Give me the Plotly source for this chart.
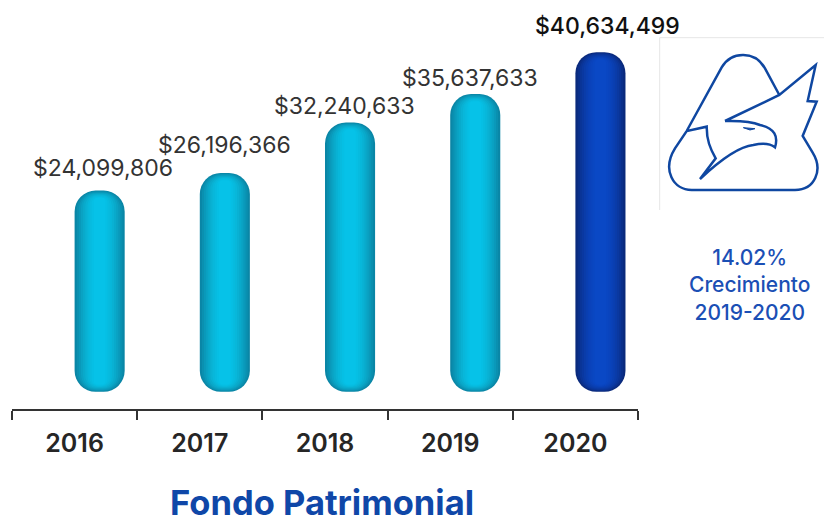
import plotly.graph_objects as go

W, H = 824, 517
years = ["2016", "2017", "2018", "2019", "2020"]
values = [24099806, 26196366, 32240633, 35637633, 40634499]
labels = ["$24,099,806", "$26,196,366", "$32,240,633", "$35,637,633", "$40,634,499"]
label_dx = [28, 25, 19, 20, 32]
label_dy = [22, 28, 16, 16, 26]
label_colors = ["#333333", "#333333", "#333333", "#333333", "#111111"]
label_weights = [400, 400, 400, 400, 500]
title = "Fondo Patrimonial"
note = "14.02%<br>Crecimiento<br>2019-2020"

# horizontal shading, from the bar's rim to its centre
cyan_layers = ["#0a86a6", "#0a90b0", "#0a99ba", "#0aa2c3", "#09aacb", "#09b1d3", "#08b7da", "#07bbdf", "#06bfe4", "#06c2e8"]
blue_layers = ["#0a2a7c", "#0a2f8a", "#0a3496", "#0a38a0", "#0a3ca9", "#0a3fb1", "#0a42b8", "#0a44bd", "#0a46c1", "#0a48c5"]
bar_w = 0.40
radius = 21
cap_px = 0.8

PX_PER_UNIT = 340 / 40634499
fig = go.Figure()
n = len(cyan_layers)
for i in range(n):
    shrink = 1 - i / n * 0.85
    w = bar_w * shrink
    off = (bar_w - w) / 2
    inset = (0.2 + i * cap_px) / PX_PER_UNIT
    cols = [cyan_layers[i]] * 4 + [blue_layers[i]]
    fig.add_trace(go.Bar(
        x=years,
        y=[v - 2 * inset for v in values],
        base=[inset] * len(values),
        width=w,
        offset=off,
        marker=dict(color=cols, line=dict(width=0), cornerradius=max(3, radius * shrink)),
        hoverinfo="skip",
        showlegend=False,
    ))

for k, (v, t, dx, dy, c, fw) in enumerate(zip(values, labels, label_dx, label_dy, label_colors, label_weights)):
    fig.add_annotation(x=k, y=v, text=t, showarrow=False, xshift=dx, yshift=dy,
                       font=dict(family="Inter, Arial", size=23, color=c, weight=fw))

def px(x, y):
    return f"{x / W:.5f} {1 - y / H:.5f}"

def logo(cmds):
    out = []
    for cmd, pts in cmds:
        coords = " ".join(px(650 + a / 3, 30 + b / 3) for a, b in pts)
        out.append(f"{cmd} {coords}")
    return " ".join(out)

outline = logo([
    ("M", [(110, 303)]), ("L", [(215, 112)]), ("C", [(245, 62), (315, 62), (345, 115)]), ("L", [(388, 195)]),
    ("M", [(225, 273)]), ("L", [(388, 195)]), ("L", [(497, 105)]), ("L", [(473, 213)]), ("L", [(500, 215)]),
    ("L", [(458, 318)]), ("L", [(488, 368)]), ("C", [(520, 420), (495, 480), (435, 480)]), ("L", [(125, 480)]),
    ("C", [(70, 480), (35, 420), (75, 355)]), ("L", [(110, 303)]),
    ("L", [(170, 290)]), ("C", [(170, 330), (180, 355), (197, 385)]), ("L", [(150, 447)]),
    ("C", [(200, 400), (260, 350), (310, 345)]), ("C", [(340, 338), (360, 340), (375, 352)]),
    ("C", [(385, 320), (375, 295), (330, 285)]), ("C", [(300, 272), (260, 272), (225, 273)]),
])
eye = logo([("M", [(280, 293)]), ("L", [(315, 296)]), ("L", [(300, 300)]), ("Z", [])])
frame = logo([("M", [(29, 540)]), ("L", [(29, 23)]), ("L", [(522, 23)])])

fig.add_shape(type="path", xref="paper", yref="paper", path=frame, line=dict(color="#e6e6e6", width=1))
fig.add_shape(type="path", xref="paper", yref="paper", path=outline, line=dict(color="#0f47a1", width=2.5))
fig.add_shape(type="path", xref="paper", yref="paper", path=eye, line=dict(color="#0f47a1", width=1), fillcolor="#0f47a1")

fig.add_annotation(xref="paper", yref="paper", x=749 / W, y=1 - 284.5 / H, text=note, showarrow=False,
                   xanchor="center", yanchor="middle", align="center",
                   font=dict(family="Inter, Arial", size=21, color="#1b4fb5", weight=500))
fig.add_annotation(xref="paper", yref="paper", x=322 / W, y=1 - 502 / H, text=title, showarrow=False,
                   xanchor="center", yanchor="middle", height=28, valign="middle",
                   font=dict(family="Inter, Arial", size=34.5, color="#0f47a8", weight=700))

y_bottom = -17 / PX_PER_UNIT
y_top = 392 / PX_PER_UNIT
fig.update_layout(
    width=W, height=H, margin=dict(l=0, r=0, t=0, b=0), autosize=False,
    paper_bgcolor="white", plot_bgcolor="white", barmode="overlay", showlegend=False,
    xaxis=dict(domain=[12 / W, 638 / W], type="category", categoryorder="array", categoryarray=years,
               range=[-0.5, 4.5], tickson="boundaries", ticks="outside", ticklen=9, tickangle=0,
               tickwidth=1.5, tickcolor="#333333", showline=True, linecolor="#333333", linewidth=2,
               showgrid=False, zeroline=False,
               tickfont=dict(family="Inter, Arial", size=25, color="#262626", weight=600),
               ticklabelstandoff=11),
    yaxis=dict(domain=[1 - 409 / H, 1], range=[y_bottom, y_top], visible=False, showgrid=False, zeroline=False),
)
fig.write_html("out.html", config={"displayModeBar": False},
               post_script="document.body.style.margin='0';document.documentElement.style.overflow='hidden';")
